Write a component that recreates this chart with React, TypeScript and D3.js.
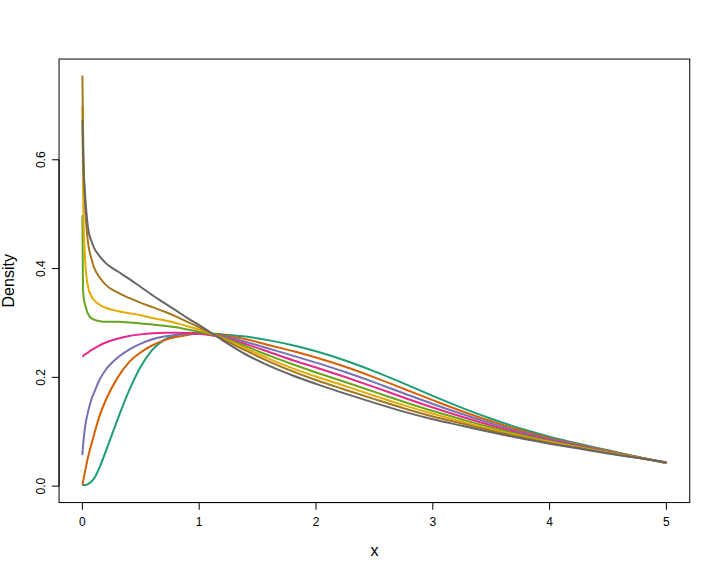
import React from "react";
import * as d3 from "d3";

const xs = [0, 0.005, 0.01, 0.02, 0.03, 0.05, 0.075, 0.1, 0.15, 0.2, 0.3, 0.4, 0.5, 0.6, 0.7, 0.8, 0.9, 1.0, 1.1, 1.2, 1.4, 1.6, 1.8, 2.0, 2.25, 2.5, 2.75, 3.0, 3.25, 3.5, 3.75, 4.0, 4.25, 4.5, 4.75, 5.0];

const tealY = [0.003, 0.002, 0.002, 0.002, 0.002, 0.004, 0.008, 0.014, 0.036, 0.064, 0.122, 0.176, 0.220, 0.251, 0.269, 0.278, 0.2815, 0.2818, 0.2808, 0.279, 0.275, 0.268, 0.259, 0.248, 0.231, 0.211, 0.189, 0.166, 0.144, 0.124, 0.106, 0.091, 0.078, 0.066, 0.054, 0.042];
const orangeY = [0.003, 0.008, 0.013, 0.024, 0.035, 0.055, 0.075, 0.095, 0.131, 0.158, 0.199, 0.228, 0.246, 0.259, 0.268, 0.274, 0.278, 0.280, 0.2795, 0.2775, 0.270, 0.259, 0.2485, 0.2365, 0.2195, 0.200, 0.179, 0.158, 0.1377, 0.1192, 0.1026, 0.0885, 0.0763, 0.0649, 0.0536, 0.043];
const purpleY = [0.057, 0.073, 0.085, 0.103, 0.118, 0.138, 0.158, 0.172, 0.197, 0.214, 0.236, 0.251, 0.262, 0.270, 0.275, 0.278, 0.280, 0.2805, 0.2785, 0.2755, 0.265, 0.2525, 0.240, 0.227, 0.2097, 0.1907, 0.1708, 0.151, 0.1325, 0.1153, 0.0997, 0.0865, 0.0749, 0.0639, 0.0533, 0.043];
const pinkY = [0.238, 0.239, 0.240, 0.242, 0.243, 0.246, 0.250, 0.253, 0.259, 0.264, 0.271, 0.276, 0.279, 0.281, 0.282, 0.282, 0.2815, 0.280, 0.2775, 0.2735, 0.261, 0.2465, 0.2315, 0.218, 0.2005, 0.182, 0.163, 0.1445, 0.1275, 0.1115, 0.097, 0.0845, 0.0735, 0.063, 0.053, 0.043];
const limeY = [0.498, 0.365, 0.348, 0.336, 0.328, 0.316, 0.309, 0.306, 0.303, 0.302, 0.302, 0.301, 0.299, 0.297, 0.295, 0.292, 0.288, 0.284, 0.279, 0.273, 0.257, 0.240, 0.224, 0.209, 0.1914, 0.1733, 0.1552, 0.138, 0.1226, 0.1078, 0.0943, 0.0825, 0.0722, 0.0621, 0.0527, 0.043];
const yellowY = [0.697, 0.56, 0.49, 0.43, 0.395, 0.365, 0.350, 0.342, 0.333, 0.328, 0.322, 0.318, 0.314, 0.309, 0.305, 0.300, 0.294, 0.288, 0.2805, 0.272, 0.253, 0.234, 0.2165, 0.2015, 0.184, 0.1663, 0.149, 0.133, 0.1186, 0.1048, 0.0921, 0.081, 0.0711, 0.0614, 0.0525, 0.043];
const brownY = [0.755, 0.66, 0.60, 0.53, 0.49, 0.445, 0.420, 0.402, 0.383, 0.370, 0.356, 0.346, 0.337, 0.329, 0.321, 0.312, 0.302, 0.292, 0.2815, 0.2705, 0.249, 0.229, 0.211, 0.195, 0.1773, 0.160, 0.1432, 0.128, 0.115, 0.102, 0.0902, 0.0795, 0.0701, 0.0607, 0.0522, 0.0435];
const grayY = [0.673, 0.62, 0.58, 0.545, 0.515, 0.472, 0.452, 0.438, 0.422, 0.410, 0.395, 0.381, 0.366, 0.351, 0.337, 0.323, 0.309, 0.296, 0.282, 0.268, 0.242, 0.221, 0.2035, 0.188, 0.170, 0.153, 0.137, 0.123, 0.111, 0.099, 0.088, 0.078, 0.069, 0.060, 0.052, 0.044];

const seriesValues = [tealY, orangeY, purpleY, pinkY, limeY, yellowY, brownY, grayY];
const seriesColors = ["#1B9E77", "#D95F02", "#7570B3", "#E7298A", "#66A61E", "#E6AB02", "#A6761D", "#666666"];

const xTicks = [0, 1, 2, 3, 4, 5];
const yTicks = [0, 0.2, 0.4, 0.6];
const xTitle = "x";
const yTitle = "Density";

const W = 720;
const H = 576;
const L = 59.04, R = 689.76, T = 59.04, B = 502.56;
const FONT = "'Liberation Sans', Arial, Helvetica, sans-serif";

export default function App() {
  const xMin = 0, xMax = 5;
  const xPad = (xMax - xMin) * 0.04;
  const yMax = d3.max(seriesValues.flat()) as number;
  const yMin = 0;
  const yPad = (yMax - yMin) * 0.04;
  const x = d3.scaleLinear().domain([xMin - xPad, xMax + xPad]).range([L, R]);
  const y = d3.scaleLinear().domain([yMin - yPad, yMax + yPad]).range([B, T]);

  const line = d3
    .line<number>()
    .x((_, i) => x(xs[i]))
    .y((d) => y(d))
    .curve(d3.curveMonotoneX);

  return (
    <svg width={W} height={H} style={{ position: "absolute", left: 0, top: 0, background: "#fff" }}>
      <rect x={0} y={0} width={W} height={H} fill="#fff" />
      {seriesValues.map((vals, i) => (
        <path key={i} d={line(vals) || ""} fill="none" stroke={seriesColors[i]} strokeWidth={2} strokeLinejoin="round" />
      ))}
      <rect x={L} y={T} width={R - L} height={B - T} fill="none" stroke="#000" strokeWidth={1} />
      <line x1={x(xTicks[0])} x2={x(xTicks[xTicks.length - 1])} y1={B} y2={B} stroke="#000" />
      {xTicks.map((t) => (
        <g key={"xt" + t}>
          <line x1={x(t)} x2={x(t)} y1={B} y2={B + 7.2} stroke="#000" />
          <text x={x(t)} y={B + 23.5} textAnchor="middle" fontSize={12} fontFamily={FONT} fill="#000">
            {String(t)}
          </text>
        </g>
      ))}
      <line x1={L} x2={L} y1={y(yTicks[0])} y2={y(yTicks[yTicks.length - 1])} stroke="#000" />
      {yTicks.map((t) => (
        <g key={"yt" + t}>
          <line x1={L - 7.2} x2={L} y1={y(t)} y2={y(t)} stroke="#000" />
          <text
            transform={`translate(${L - 14.4},${y(t)}) rotate(-90)`}
            textAnchor="middle"
            fontSize={12}
            fontFamily={FONT}
            fill="#000"
          >
            {t.toFixed(1)}
          </text>
        </g>
      ))}
      <text x={(L + R) / 2} y={556} textAnchor="middle" fontSize={16} fontFamily={FONT} fill="#000">
        {xTitle}
      </text>
      <text
        transform={`translate(13.5,${(T + B) / 2}) rotate(-90)`}
        textAnchor="middle"
        fontSize={16}
        fontFamily={FONT}
        fill="#000"
      >
        {yTitle}
      </text>
    </svg>
  );
}
